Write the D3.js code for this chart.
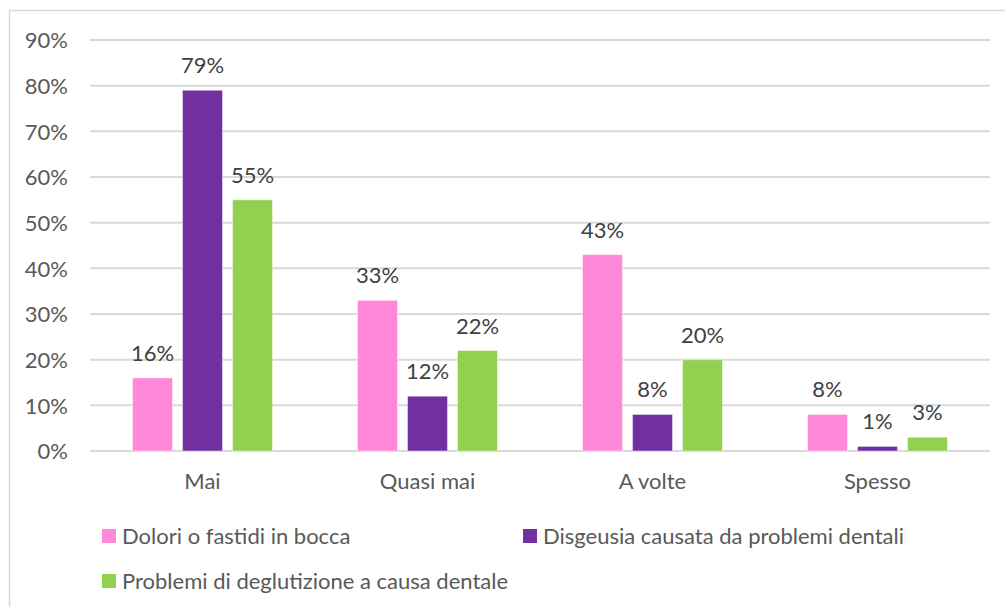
<!DOCTYPE html>
<html>
<head>
<meta charset="utf-8">
<script src="https://cdn.jsdelivr.net/npm/d3@7"></script>
<style>
  html, body { margin: 0; padding: 0; background: #fff; }
  svg { display: block; }
  text { font-family: Lato, "Open Sans", sans-serif; }
</style>
</head>
<body>
<svg id="chart" width="1005" height="607"></svg>
<script>
// Frequency categories on the x axis
const categories = ["Mai", "Quasi mai", "A volte", "Spesso"];

// Series names (legend) and their percentages per category
const seriesNames = [
  "Dolori o fastidi in bocca",
  "Disgeusia causata da problemi dentali",
  "Problemi di deglutizione a causa dentale"
];
const dolori = [16, 33, 43, 8];
const disgeusia = [79, 12, 8, 1];
const deglutizione = [55, 22, 20, 3];
const seriesValues = [dolori, disgeusia, deglutizione];
const seriesColors = ["#FF89D8", "#7030A0", "#92D050"];

// Y axis ticks (percent)
const yTicks = [0, 10, 20, 30, 40, 50, 60, 70, 80, 90];

const FONT = "22px";

const svg = d3.select("#chart");
const W = 1005, H = 607;

// Outer chart frame (right and bottom edges fall outside the view)
svg.append("rect")
  .attr("x", 9.5).attr("y", 10.5)
  .attr("width", W + 20).attr("height", H + 20)
  .attr("fill", "#fff").attr("stroke", "#D9D9D9").attr("stroke-width", 1.5);

const plot = { left: 90, right: 990, top: 40, bottom: 451 };

const x = d3.scaleBand()
  .domain(categories)
  .range([plot.left, plot.right])
  .paddingInner(0).paddingOuter(0);

const y = d3.scaleLinear()
  .domain([0, 90])
  .range([plot.bottom, plot.top]);

// Bars inside each band: width and spacing
const barW = 40, barStep = 50;
const xs = d3.scaleBand()
  .domain(d3.range(seriesNames.length))
  .range([0, barStep * seriesNames.length]);

// Gridlines
svg.append("g")
  .selectAll("line")
  .data(yTicks)
  .join("line")
  .attr("x1", plot.left).attr("x2", plot.right)
  .attr("y1", d => y(d)).attr("y2", d => y(d))
  .attr("stroke", "#D9D9D9").attr("stroke-width", 2);

// Y axis labels
const yAxis = d3.axisLeft(y).tickValues(yTicks).tickFormat(d => d + "%").tickSize(0).tickPadding(0);
const yg = svg.append("g").attr("transform", `translate(${plot.left - 22},0)`).call(yAxis);
yg.select(".domain").remove();
yg.selectAll("text")
  .attr("fill", "#595959")
  .style("font-size", FONT)
  .attr("dy", "0.35em");

// X axis labels
const xAxis = d3.axisBottom(x).tickSize(0).tickPadding(0);
const xg = svg.append("g").attr("transform", `translate(0,${plot.bottom + 22})`).call(xAxis);
xg.select(".domain").remove();
xg.selectAll("text")
  .attr("fill", "#595959")
  .style("font-size", FONT);

// Bars and value labels
seriesValues.forEach((vals, si) => {
  const g = svg.append("g");
  const bx = (c) => x(c) + x.bandwidth() / 2 - (barStep * seriesNames.length) / 2 + xs(si) + (barStep - barW) / 2;
  const rows = categories.map((c, i) => ({ c, v: vals[i] }));
  g.selectAll("rect")
    .data(rows)
    .join("rect")
    .attr("x", d => bx(d.c))
    .attr("y", d => y(d.v))
    .attr("width", barW)
    .attr("height", d => y(0) - y(d.v))
    .attr("fill", seriesColors[si])
    .attr("stroke", "#ffffff").attr("stroke-opacity", 0.45).attr("stroke-width", 1);
  g.selectAll("text")
    .data(rows)
    .join("text")
    .attr("x", d => bx(d.c) + barW / 2)
    .attr("y", d => y(d.v) - 17)
    .attr("text-anchor", "middle")
    .attr("fill", "#404040")
    .style("font-size", FONT)
    .text(d => d.v + "%");
});

// Legend
const legendItems = [
  { x: 102, y: 529 },
  { x: 523, y: 529 },
  { x: 102, y: 574 }
];
const lg = svg.append("g");
seriesNames.forEach((name, i) => {
  const p = legendItems[i];
  lg.append("rect")
    .attr("x", p.x).attr("y", p.y)
    .attr("width", 14).attr("height", 14)
    .attr("fill", seriesColors[i]);
  lg.append("text")
    .attr("x", p.x + 20).attr("y", p.y + 7)
    .attr("dy", "0.35em")
    .attr("fill", "#595959")
    .style("font-size", FONT)
    .text(name);
});
</script>
</body>
</html>
